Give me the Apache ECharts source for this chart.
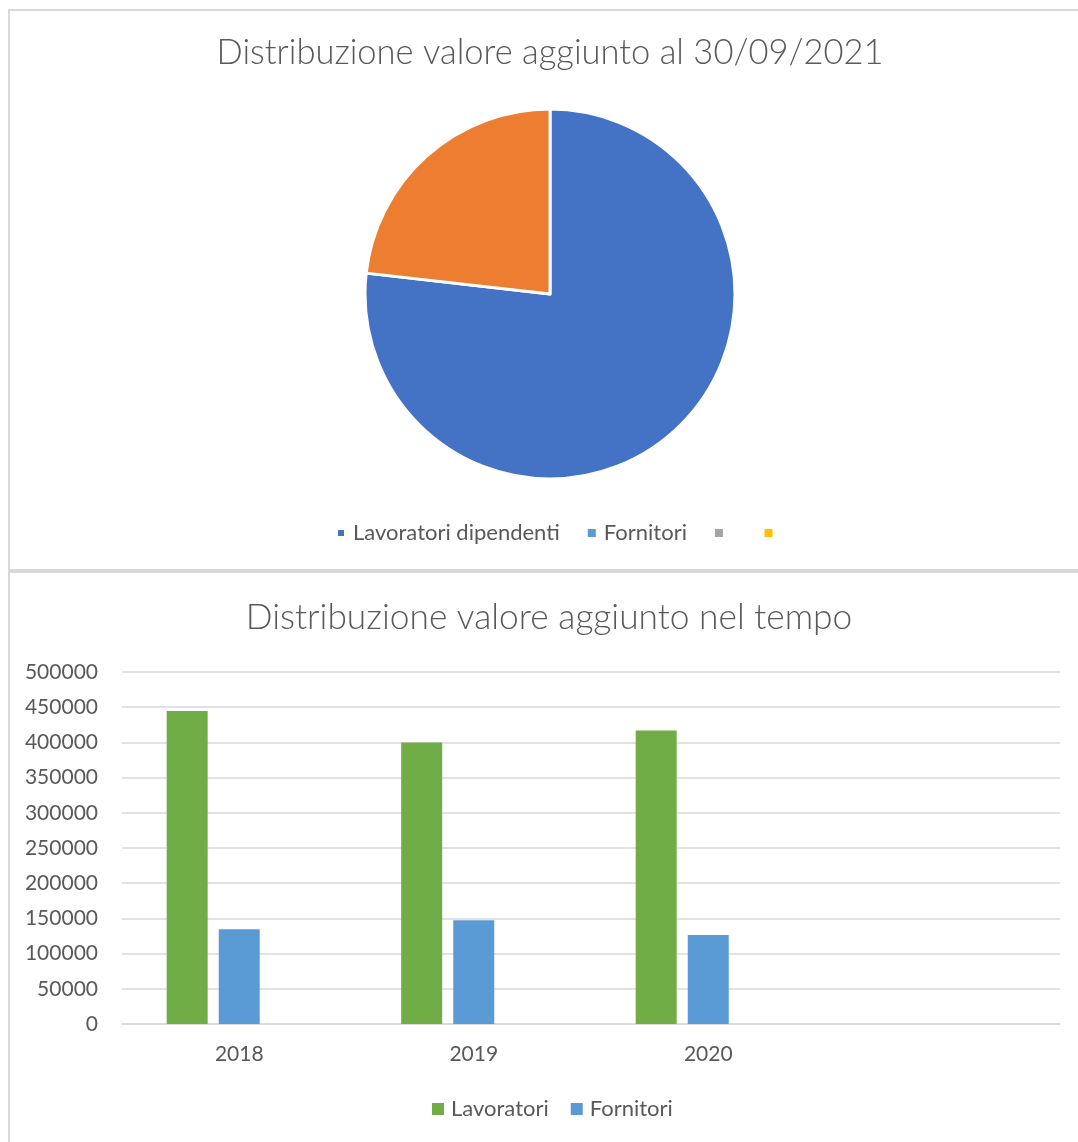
<!DOCTYPE html>
<html>
<head>
<meta charset="utf-8">
<script src="https://cdn.jsdelivr.net/npm/echarts@6/dist/echarts.min.js"></script>
<style>
  html, body { margin: 0; padding: 0; background: #fff; overflow: hidden; }
  .frame { position: absolute; box-sizing: border-box; border: 0 solid #d9d9d9; }
  #frameTop { left: 8px; top: 9px; width: 1090px; height: 562px; border-top-width: 2px; border-left-width: 2px; border-bottom-width: 2px; }
  #frameBottom { left: 8px; top: 571px; width: 1090px; height: 600px; border-top-width: 2px; border-left-width: 2px; }
  #chart { position: absolute; left: 0; top: 0; width: 1078px; height: 1142px; }
</style>
</head>
<body>
<div class="frame" id="frameTop"></div>
<div class="frame" id="frameBottom"></div>
<div id="chart"></div>
<script>
// pie: distribuzione al 30/09/2021 (quote stimate dal grafico)
const pieNames = ['Lavoratori dipendenti', 'Fornitori', ' ', '  ']
const pieValues = [76.8, 23.2, 0, 0]
const pieColors = ['#4472C4', '#ED7D31', '#A5A5A5', '#FFC000']

// barre: distribuzione nel tempo
const years = ['2018', '2019', '2020', '']
const lavoratori = [444500, 400000, 417000, null]
const fornitori = [134500, 147500, 126500, null]
const terzaSerie = [null, null, null, null]

const textColor = '#595959'
const lineColor = '#d9d9d9'
const font = 'Lato'

function initChart() {
    var chartDom = document.getElementById('chart');
    var myChart = echarts.init(chartDom, null, { renderer: 'canvas' });
    var option;

    const pieData = pieNames.map((n, i) => ({
        name: n,
        value: pieValues[i],
        itemStyle: { color: pieColors[i], borderWidth: pieValues[i] > 0 ? 3 : 0 }
    }))

    option = {
        animation: false,
        textStyle: { fontFamily: font },
        title: [
            {
                text: 'Distribuzione valore aggiunto al 30/09/2021',
                left: 545, top: 30, textAlign: 'center',
                textStyle: { color: textColor, fontFamily: font, fontWeight: 300, fontSize: 34.5 }
            },
            {
                text: 'Distribuzione valore aggiunto nel tempo',
                left: 544, top: 595, textAlign: 'center',
                textStyle: { color: textColor, fontFamily: font, fontWeight: 300, fontSize: 35.3 }
            }
        ],
        legend: [
            {
                data: pieNames,
                left: 331, top: 517,
                icon: 'rect', itemWidth: 8, itemHeight: 8, itemGap: 28,
                textStyle: { color: textColor, fontFamily: font, fontSize: 22, padding: [0, 0, 0, 3] }
            },
            {
                data: ['Lavoratori', 'Fornitori'],
                left: 427, top: 1093,
                icon: 'rect', itemWidth: 12, itemHeight: 12, itemGap: 22,
                textStyle: { color: textColor, fontFamily: font, fontSize: 22, padding: [0, 0, 0, 2] }
            }
        ],
        grid: { left: 122, right: 18, top: 672, bottom: 118, containLabel: false },
        xAxis: {
            type: 'category',
            data: years,
            axisTick: { show: false },
            axisLine: { lineStyle: { color: lineColor, width: 1.5 } },
            axisLabel: { color: textColor, fontFamily: font, fontSize: 21, margin: 20 }
        },
        yAxis: {
            type: 'value',
            min: 0, max: 500000, interval: 50000,
            axisLine: { show: false },
            axisTick: { show: false },
            axisLabel: { color: textColor, fontFamily: font, fontSize: 21, margin: 24, formatter: v => String(v) },
            splitLine: { lineStyle: { color: lineColor, width: 1.5 } }
        },
        series: [
            {
                type: 'pie',
                center: [550, 294],
                radius: 185,
                startAngle: 90,
                clockwise: true,
                label: { show: false },
                labelLine: { show: false },
                emphasis: { disabled: true },
                itemStyle: { borderColor: '#fff' },
                data: pieData
            },
            {
                name: 'Lavoratori', type: 'bar', data: lavoratori,
                barWidth: 41, barGap: '27%',
                itemStyle: { color: '#70AD47' }
            },
            {
                name: 'Fornitori', type: 'bar', data: fornitori,
                barWidth: 41, barGap: '27%',
                itemStyle: { color: '#5B9BD5' }
            },
            {
                name: 'Serie3', type: 'bar', data: terzaSerie,
                barWidth: 41, barGap: '27%',
                itemStyle: { color: '#A5A5A5' }
            }
        ]
    };

    option && myChart.setOption(option);
}

initChart()
</script>
</body>
</html>
